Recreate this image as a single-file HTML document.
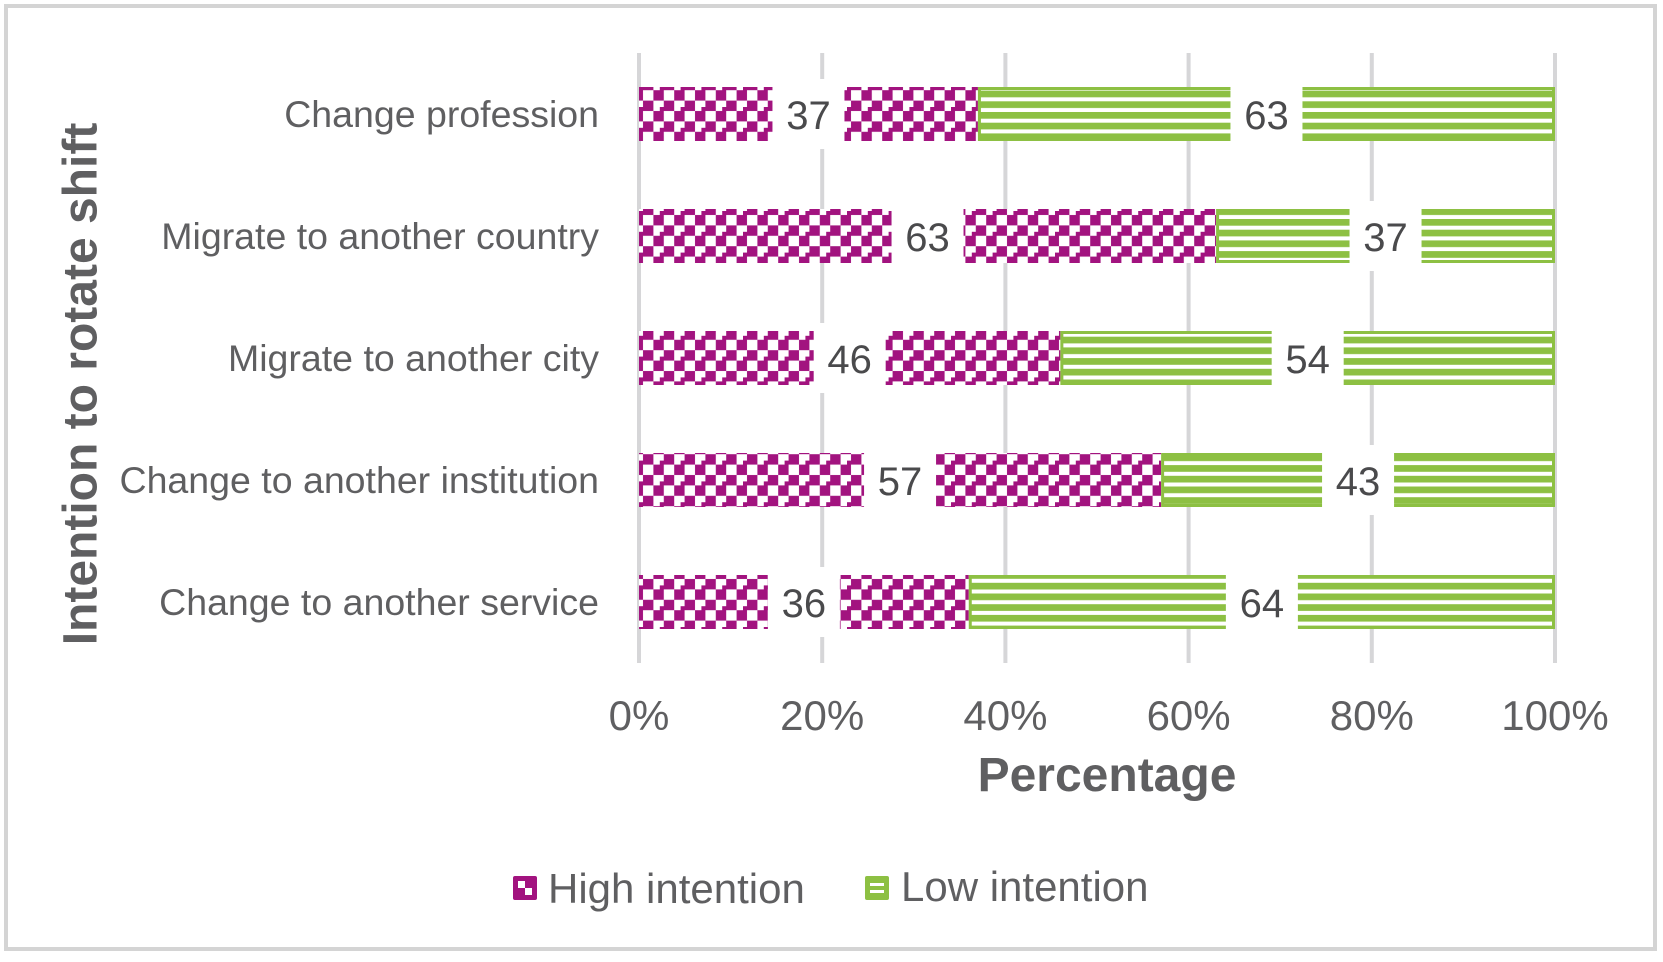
<!DOCTYPE html>
<html><head><meta charset="utf-8"><style>
body{margin:0;background:#fff;width:1663px;height:957px;overflow:hidden}
svg text{font-family:"Liberation Sans",Arial,sans-serif}
</style></head><body>
<svg id="chart" width="1663" height="957">
<defs>
<pattern id="checker" width="20.8" height="20.8" patternUnits="userSpaceOnUse" x="639" y="3">
<rect width="20.8" height="20.8" fill="#a2137f"/>
<rect x="4" y="4" width="10.4" height="10.4" fill="#fff"/>
<rect x="14.4" y="14.4" width="10.4" height="10.4" fill="#fff"/>
<rect x="-6.4" y="14.4" width="10.4" height="10.4" fill="#fff"/>
<rect x="14.4" y="-6.4" width="10.4" height="10.4" fill="#fff"/>
</pattern>
<pattern id="stripes" width="10" height="10.7" patternUnits="userSpaceOnUse" y="5">
<rect width="10" height="10.7" fill="#8dc043"/>
<rect y="6.7" width="10" height="4" fill="#fff"/>
</pattern>
</defs>
<rect x="6" y="6" width="1649" height="943" fill="#fff" stroke="#d4d4d4" stroke-width="4"/>
<g id="grid"></g><g id="bars"></g><g id="labels"></g>
<text x="81" y="384" transform="rotate(-90 81 384)" text-anchor="middle" dominant-baseline="central" font-size="48" font-weight="bold" fill="#5f5f61">Intention to rotate shift</text>
<text x="1107" y="791" text-anchor="middle" font-size="48" font-weight="bold" fill="#5f5f61">Percentage</text>
<g>
<g>
<rect x="513" y="876" width="24" height="24" rx="2" fill="#a2137f"/>
<rect x="518" y="881" width="7" height="7" fill="#fff"/><rect x="525" y="888" width="7" height="7" fill="#fff"/>
<text x="548" y="903" font-size="42" fill="#5f5f61">High intention</text></g>
<g>
<rect x="865" y="876" width="24" height="24" rx="2" fill="#8dc043"/>
<rect x="870" y="883" width="14" height="3" fill="#fff"/><rect x="870" y="890" width="14" height="3" fill="#fff"/>
<text x="901" y="901" font-size="42" fill="#5f5f61">Low intention</text></g>
</g>
</svg>
<script>
const categories=["Change profession","Migrate to another country","Migrate to another city","Change to another institution","Change to another service"];
const highValues=[37,63,46,57,36];
const lowValues=[63,37,54,43,64];
const tickValues=[0,20,40,60,80,100];
const NS="http://www.w3.org/2000/svg";
const X0=639,X1=1555,ROW0=114,ROWH=122,BH=54;
function xs(v){return X0+(X1-X0)*v/100;}
function ys(i){return ROW0+ROWH*i;}
function mk(tag,at,parent){const e=document.createElementNS(NS,tag);for(const k in at)e.setAttribute(k,at[k]);parent.appendChild(e);return e;}
const g=document.getElementById('grid'),b=document.getElementById('bars'),l=document.getElementById('labels');
tickValues.forEach(t=>{
 const ln=mk('line',{x1:xs(t),x2:xs(t),y1:53,y2:663,stroke:'#d6d6d8','stroke-width':4},g);
 
 
 const tx=mk('text',{x:xs(t),y:730,'text-anchor':'middle','font-size':42,fill:'#5f5f61'},g);
 tx.textContent=t+'%';
 
 
});
categories.forEach((c,i)=>{
 const y=ys(i);
 const cl=mk('text',{x:599,y:y,'text-anchor':'end','dominant-baseline':'central','font-size':37.5,fill:'#5f5f61'},l);
 cl.textContent=c;
 
 
 const h=highValues[i],lo=lowValues[i];
 const r1=mk('rect',{x:xs(0),y:y-BH/2,width:xs(h)-xs(0),height:BH,fill:'url(#checker)'},b);
 
 
 const r2=mk('rect',{x:xs(h)+1.5,y:y-BH/2+1.5,width:xs(h+lo)-xs(h)-3,height:BH-3,fill:'url(#stripes)',stroke:'#8dc043','stroke-width':3},b);
 
 
 [[h/2,h],[h+lo/2,lo]].forEach(([c2,v])=>{
  const cx=xs(c2);
  mk('rect',{x:cx-36,y:y-BH/2-8,width:72,height:BH+16,fill:'#fff'},l);
  const t=mk('text',{x:cx,y:y+2,'text-anchor':'middle','dominant-baseline':'central','font-size':40,fill:'#4a4a4c'},l);
  t.textContent=v;
  
  
 });
});
</script>
</body></html>
